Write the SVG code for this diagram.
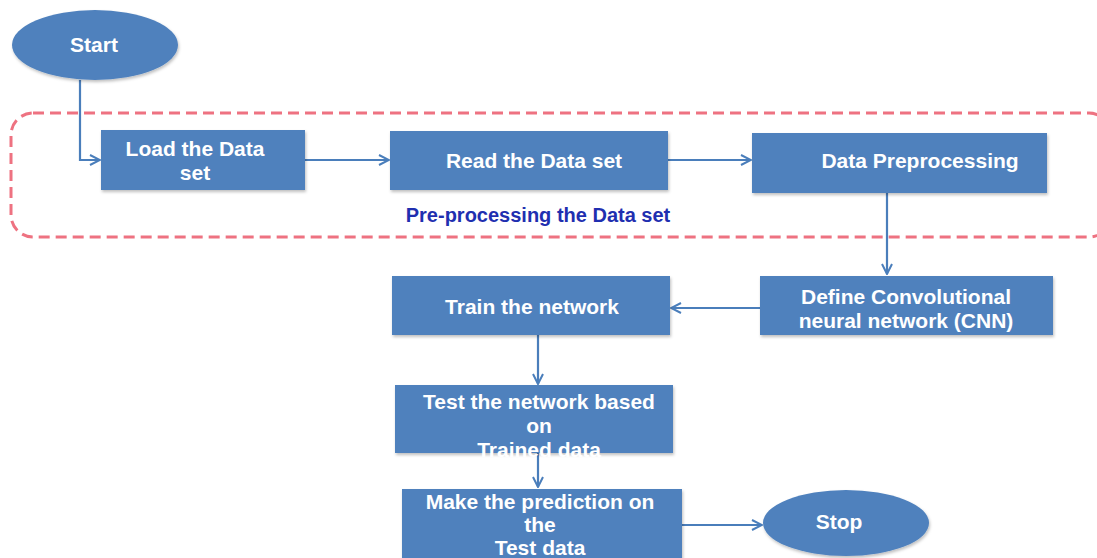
<svg xmlns="http://www.w3.org/2000/svg" width="1097" height="558" viewBox="0 0 1097 558">
  <defs>
    <marker id="arr" viewBox="0 0 12 12" refX="11" refY="6" markerWidth="12" markerHeight="12" markerUnits="userSpaceOnUse" orient="auto">
      <path d="M1,1 L11,6 L1,11" fill="none" stroke="#4a7ebb" stroke-width="2"/>
    </marker>
    <filter id="sh" x="-10%" y="-10%" width="120%" height="130%">
      <feDropShadow dx="1" dy="2" stdDeviation="1.5" flood-color="#000" flood-opacity="0.25"/>
    </filter>
  </defs>
  <style>
    .box { fill: #4f81bd; filter: url(#sh); }
    .t { font-family: "Liberation Sans", Arial, sans-serif; font-weight: bold; font-size: 21px; fill: #ffffff; text-anchor: middle; }
    .c { fill: none; stroke: #4a7ebb; stroke-width: 2.2; marker-end: url(#arr); }
    .grp { fill: none; stroke: #ee7281; stroke-width: 3; stroke-dasharray: 11 6; }
    .lbl { font-family: "Liberation Sans", Arial, sans-serif; font-weight: bold; font-size: 20px; fill: #1f2fb0; text-anchor: middle; }
  </style>
  <rect width="1097" height="558" fill="#ffffff"/>

  <g id="preprocessing-group">
    <rect class="grp" x="11" y="113" width="1100" height="124" rx="22"/>
    <text class="lbl" x="538" y="222">Pre-processing the Data set</text>
  </g>

  <g id="connectors">
    <path class="c" d="M80,80 V160 H100"/>
    <path class="c" d="M305,160 H389"/>
    <path class="c" d="M668,160 H751"/>
    <path class="c" d="M887,193 V274"/>
    <path class="c" d="M760,308 H671"/>
    <path class="c" d="M538,335 V384"/>
    <path class="c" d="M538,453 V487"/>
    <path class="c" d="M682,525 H762"/>
  </g>

  <g id="start">
    <ellipse class="box" cx="95" cy="45" rx="83" ry="35"/>
    <text class="t" x="94" y="52">Start</text>
  </g>

  <g id="load">
    <rect class="box" x="101" y="130" width="204" height="60"/>
    <text class="t" x="195" y="156">Load the Data</text>
    <text class="t" x="195" y="180">set</text>
  </g>

  <g id="read">
    <rect class="box" x="390" y="131" width="278" height="59"/>
    <text class="t" x="534" y="168">Read the Data set</text>
  </g>

  <g id="datapre">
    <rect class="box" x="752" y="133" width="295" height="60"/>
    <text class="t" x="920" y="168">Data Preprocessing</text>
  </g>

  <g id="cnn">
    <rect class="box" x="760" y="276" width="293" height="59"/>
    <text class="t" x="906" y="304">Define Convolutional</text>
    <text class="t" x="906" y="328">neural network (CNN)</text>
  </g>

  <g id="train">
    <rect class="box" x="392" y="276" width="278" height="59"/>
    <text class="t" x="532" y="314">Train the network</text>
  </g>

  <g id="test">
    <rect class="box" x="395" y="385" width="278" height="68"/>
    <text class="t" x="539" y="409">Test the network based</text>
    <text class="t" x="539" y="433">on</text>
    <text class="t" x="539" y="457">Trained data</text>
  </g>

  <g id="predict">
    <rect class="box" x="402" y="489" width="280" height="75"/>
    <text class="t" x="540" y="509">Make the prediction on</text>
    <text class="t" x="540" y="532">the</text>
    <text class="t" x="540" y="555">Test data</text>
  </g>

  <g id="stop">
    <ellipse class="box" cx="846" cy="523" rx="83" ry="33"/>
    <text class="t" x="839" y="529">Stop</text>
  </g>
</svg>
